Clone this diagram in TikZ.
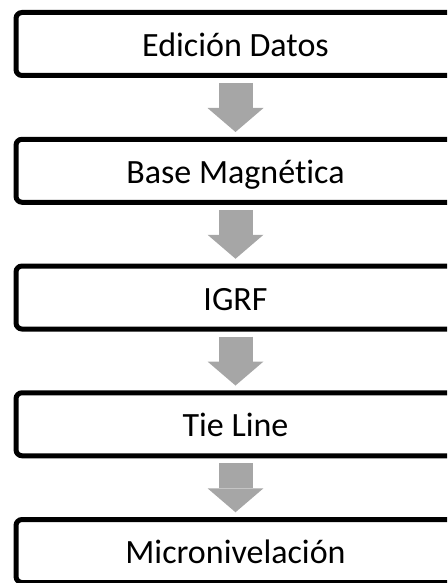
\documentclass[tikz,border=0pt]{standalone}
\usepackage{fontspec}
\setmainfont{Carlito}[Ligatures=NoCommon]
\usetikzlibrary{positioning,arrows.meta}
\definecolor{grisflecha}{RGB}{166,166,166}

\begin{document}
\begin{tikzpicture}[x=1pt,y=1pt,node distance=63.75pt,
	caja/.style={draw,line width=5pt,rounded corners=6pt,minimum width=439pt,minimum height=63pt,
		inner sep=0pt,outer sep=0pt,font=\fontsize{34}{40}\selectfont,text height=25pt,text depth=0pt},
	flecha/.style={draw=grisflecha,line width=34pt,shorten <=7.5pt,shorten >=7.25pt,
		-{Triangle[length=24pt,width=56pt,line width=0pt]}}]
	\useasboundingbox (0,0) rectangle (447,-583);
	\clip (0,0) rectangle (447,-583);
	\node[caja] (edicion) at (235.5,-44) {Edición Datos};
	\node[caja,below=of edicion] (base) {Base Magnética};
	\node[caja,below=of base] (igrf) {IGRF};
	\node[caja,below=of igrf] (tie) {Tie Line};
	\node[caja,below=of tie] (micro) {Micronivelación};
	\draw[flecha] (edicion) -- (base);
	\draw[flecha] (base) -- (igrf);
	\draw[flecha] (igrf) -- (tie);
	\draw[flecha] (tie) -- (micro);
\end{tikzpicture}
\end{document}
